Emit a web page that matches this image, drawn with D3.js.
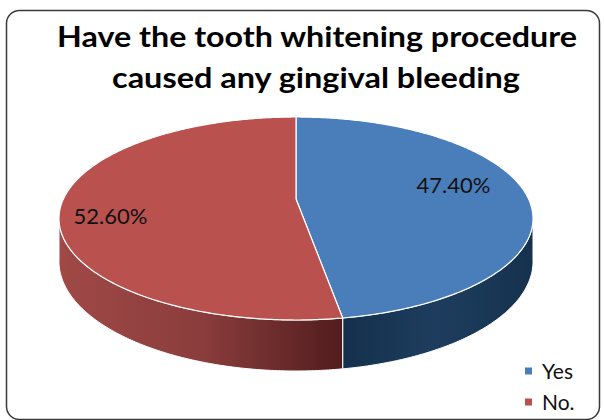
<!DOCTYPE html>
<html>
<head>
<meta charset="utf-8">
<script src="https://cdn.jsdelivr.net/npm/d3@7"></script>
<style>
  html, body { margin: 0; padding: 0; background: #fff; }
  svg { display: block; }
</style>
</head>
<body>
<svg id="chart" width="604" height="420"></svg>
<script>
// ---- data ----
const titleLines = ["Have the tooth whitening procedure", "caused any gingival bleeding"];
const categories = ["Yes", "No."];
const values = [47.4, 52.6];
const topColors = ["#4A7EBB", "#B9514F"];
const sideStops = [
  ["#14304C", "#1E3D5E", "#15314E"],
  ["#A04947", "#8A3D3C", "#521C1D"]
];

// ---- layout ----
const svg = d3.select("#chart");
const defs = svg.append("defs");

// 3D pie projection: circle in a tilted plane with mild perspective
const cx = 296, cy = 199;      // projected centre of the top face
const A = 232.6, B = 97.75;    // horizontal / vertical radii before perspective
const K = 0.1921;              // perspective strength (front is larger)
const DEPTH = 41.2;            // thickness of the pie

function proj(theta, r, t) {
  const u = r * Math.sin(theta);
  const v = -r * Math.cos(theta);
  const s = 1 / (1 - K * v);
  return [cx + A * u * s, cy + (B * v + DEPTH * t) * s];
}

const pie = d3.pie().sort(null).value(d => d)
  .startAngle(0).endAngle(2 * Math.PI);
const arcs = pie(values);

const line = d3.line();
function sampleAngles(a0, a1) {
  const n = Math.max(2, Math.ceil((a1 - a0) / 0.01));
  return d3.range(n + 1).map(i => a0 + (a1 - a0) * i / n);
}

// frame
svg.append("rect")
  .attr("x", 6.5).attr("y", 10.5)
  .attr("width", 593).attr("height", 409)
  .attr("rx", 13).attr("ry", 13)
  .attr("fill", "#fff")
  .attr("stroke", "#3a3a3a").attr("stroke-width", 1.5);

// title
const titleG = svg.append("g")
  .attr("font-family", "Lato, 'Open Sans', sans-serif")
  .attr("font-weight", "bold")
  .attr("font-size", 28.5)
  .attr("fill", "#000")
  .attr("text-anchor", "middle");
const titleY = [47, 88];
const titleW = [520, 408];
const titleX = [317, 316];
titleLines.forEach((t, i) => {
  titleG.append("text")
    .attr("x", titleX[i]).attr("y", titleY[i])
    .attr("textLength", titleW[i])
    .attr("lengthAdjust", "spacingAndGlyphs")
    .text(t);
});

// side walls (only the part facing the viewer)
const thMin = Math.PI - Math.acos(K);
const thMax = 2 * Math.PI - thMin;
const wallG = svg.append("g");
arcs.forEach((a, i) => {
  const a0 = Math.max(a.startAngle, thMin);
  const a1 = Math.min(a.endAngle, thMax);
  if (a1 <= a0) return;
  const angs = sampleAngles(a0, a1);
  const topPts = angs.map(t => proj(t, 1, 0));
  const botPts = angs.slice().reverse().map(t => proj(t, 1, 1));
  const xs = topPts.map(p => p[0]);
  const gid = "side" + i;
  const g = defs.append("linearGradient").attr("id", gid)
    .attr("gradientUnits", "userSpaceOnUse")
    .attr("x1", d3.min(xs)).attr("x2", d3.max(xs))
    .attr("y1", 0).attr("y2", 0);
  sideStops[i].forEach((c, j, arr) => {
    g.append("stop").attr("offset", j / (arr.length - 1)).attr("stop-color", c);
  });
  wallG.append("path")
    .attr("d", line(topPts.concat(botPts)) + "Z")
    .attr("fill", `url(#${gid})`)
    .attr("stroke", "#fff").attr("stroke-width", 1)
    .attr("stroke-linejoin", "round");
});

// top faces
const topG = svg.append("g");
arcs.forEach((a, i) => {
  const pts = [[cx, cy]].concat(sampleAngles(a.startAngle, a.endAngle).map(t => proj(t, 1, 0)));
  topG.append("path")
    .attr("d", line(pts) + "Z")
    .attr("fill", topColors[i])
    .attr("stroke", "#fff").attr("stroke-width", 1.2)
    .attr("stroke-linejoin", "round");
});

// value labels
const fmt = v => d3.format(".2f")(v) + "%";
const labelR = 0.7;
const labelNudge = [[-3, -8], [-21.5, 11.5]];
svg.append("g")
  .attr("font-family", "Lato, 'Open Sans', sans-serif")
  .attr("font-size", 22)
  .attr("fill", "#111")
  .attr("text-anchor", "middle")
  .selectAll("text").data(arcs).join("text")
  .attr("x", (d, i) => proj((d.startAngle + d.endAngle) / 2, labelR, 0)[0] + labelNudge[i][0])
  .attr("y", (d, i) => proj((d.startAngle + d.endAngle) / 2, labelR, 0)[1] + labelNudge[i][1])
  .attr("dy", "0.35em")
  .text(d => fmt(d.data));

// legend
const legend = svg.append("g")
  .attr("font-family", "Lato, 'Open Sans', sans-serif")
  .attr("font-size", 21)
  .attr("fill", "#111");
const legY = d3.scalePoint().domain(categories).range([371, 402]);
categories.forEach((c, i) => {
  legend.append("rect")
    .attr("x", 525).attr("y", legY(c) - 3.5)
    .attr("width", 7).attr("height", 7)
    .attr("fill", topColors[i]);
  legend.append("text")
    .attr("x", 542).attr("y", legY(c))
    .attr("dy", "0.36em")
    .text(c);
});
</script>
</body>
</html>
